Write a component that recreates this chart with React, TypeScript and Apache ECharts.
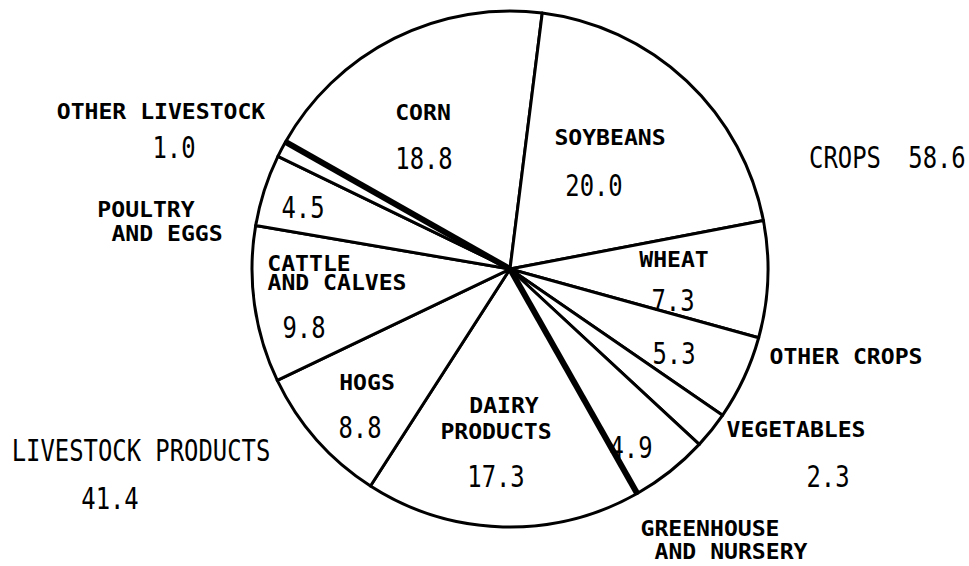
import React, { useEffect, useRef } from "react";
import * as echarts from "echarts";

// ---- data ----
const categories = [
  "CORN",
  "SOYBEANS",
  "WHEAT",
  "OTHER CROPS",
  "VEGETABLES",
  "GREENHOUSE\nAND NURSERY",
  "DAIRY\nPRODUCTS",
  "HOGS",
  "CATTLE\nAND CALVES",
  "POULTRY\nAND EGGS",
  "OTHER LIVESTOCK",
];
const shares = [18.8, 20.0, 7.3, 5.3, 2.3, 4.9, 17.3, 8.8, 9.8, 4.5, 1.0];
const groupNames = ["CROPS", "LIVESTOCK PRODUCTS"];
const groupTotals = [58.6, 41.4];
const groupSizes = [6, 5];

// ---- layout (positions only) ----
const CENTER: [number, number] = [510, 269];
const RADIUS = 258;
const START_ANGLE = 150.5;
const nameLinePos: number[][][] = [
  [[423, 113]],
  [[610, 138]],
  [[674, 260]],
  [[846, 357]],
  [[796, 430]],
  [[710, 529], [731, 552]],
  [[504, 406], [496, 432]],
  [[367, 383]],
  [[309, 264], [337, 283]],
  [[146, 210], [167, 234]],
  [[161, 112]],
];
const valuePos: number[][] = [
  [424, 158],
  [594, 185],
  [673, 300],
  [674, 353],
  [828, 476],
  [631, 447],
  [496, 476],
  [360, 427],
  [304, 327],
  [303, 207],
  [174, 147],
];
const groupNamePos = [
  [845, 157],
  [141, 450],
];
const groupValuePos = [
  [937, 157],
  [110, 498],
];

function smallText(text: string, x: number, y: number) {
  return {
    type: "text",
    x,
    y,
    scaleX: 1.1,
    z: 100,
    style: {
      text,
      fontFamily: "DejaVu Sans Mono",
      fontWeight: "bold",
      fontSize: 21,
      fill: "#000",
      align: "center",
      verticalAlign: "middle",
    },
  };
}

function bigText(text: string, x: number, y: number) {
  return {
    type: "text",
    x,
    y,
    scaleX: 0.77,
    z: 100,
    style: {
      text,
      fontFamily: "DejaVu Sans Mono",
      fontSize: 31,
      fill: "#000",
      align: "center",
      verticalAlign: "middle",
    },
  };
}

export default function App() {
  const ref = useRef<HTMLDivElement>(null);

  useEffect(() => {
    if (!ref.current) return;
    const chart = echarts.init(ref.current, undefined, { renderer: "svg" });

    const graphics: any[] = [];
    categories.forEach((cat, i) => {
      const lines = cat.split("\n");
      lines.forEach((ln, j) => {
        const p = nameLinePos[i][j];
        graphics.push(smallText(ln, p[0], p[1]));
      });
      graphics.push(bigText(shares[i].toFixed(1), valuePos[i][0], valuePos[i][1]));
    });
    groupNames.forEach((g, i) => {
      graphics.push(bigText(g, groupNamePos[i][0], groupNamePos[i][1]));
      graphics.push(bigText(groupTotals[i].toFixed(1), groupValuePos[i][0], groupValuePos[i][1]));
    });

    // group boundaries (cumulative shares)
    const boundaries: number[] = [];
    let acc = 0;
    let idx = 0;
    groupSizes.forEach((n) => {
      boundaries.push(acc);
      for (let k = 0; k < n; k++) acc += shares[idx++];
    });

    const lineSeries = boundaries.map((b) => ({
      type: "line",
      coordinateSystem: "polar",
      data: [
        [0, b],
        [1, b],
      ],
      symbol: "none",
      silent: true,
      z: 5,
      lineStyle: { color: "#000", width: 6, cap: "butt" },
    }));

    chart.setOption({
      animation: false,
      backgroundColor: "#fff",
      polar: { center: CENTER, radius: RADIUS },
      angleAxis: {
        type: "value",
        min: 0,
        max: 100,
        startAngle: START_ANGLE,
        clockwise: true,
        show: false,
      },
      radiusAxis: { type: "value", min: 0, max: 1, show: false },
      series: [
        {
          type: "pie",
          center: CENTER,
          radius: RADIUS,
          startAngle: START_ANGLE,
          clockwise: true,
          silent: true,
          z: 2,
          label: { show: false },
          labelLine: { show: false },
          itemStyle: { color: "#fff", borderColor: "#000", borderWidth: 3 },
          data: categories.map((c, i) => ({ name: c, value: shares[i] })),
        },
        ...lineSeries,
      ],
      graphic: graphics,
    });

    return () => chart.dispose();
  }, []);

  return (
    <div
      ref={ref}
      style={{ position: "fixed", left: 0, top: 0, width: 969, height: 566, background: "#fff" }}
    />
  );
}
